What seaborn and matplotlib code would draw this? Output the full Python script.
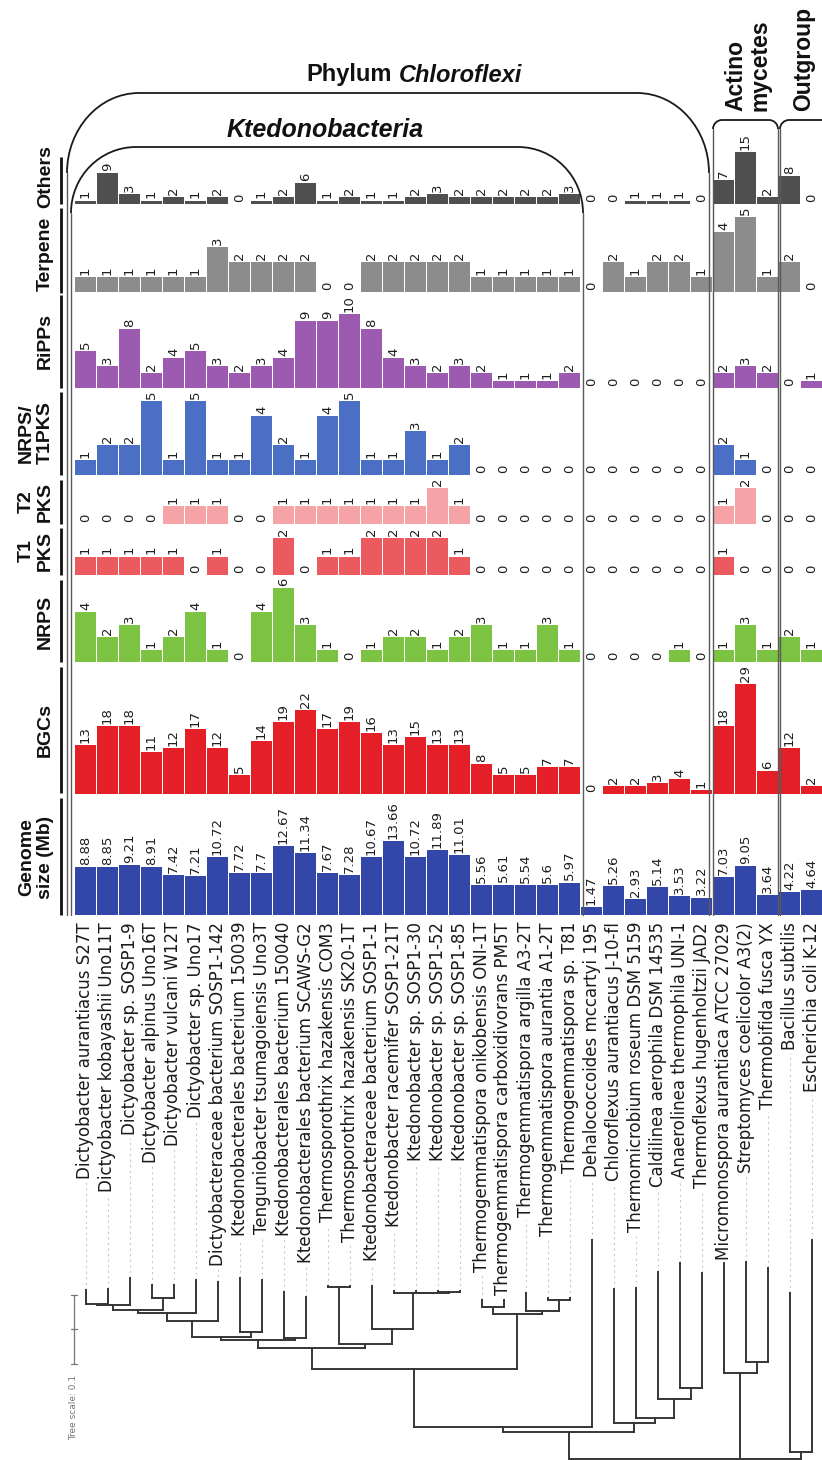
import matplotlib
matplotlib.use("Agg")
import matplotlib.pyplot as plt
import seaborn as sns
from matplotlib.path import Path
from matplotlib.patches import PathPatch

sns.set_theme(style="white")
plt.rcParams['font.family'] = ['DejaVu Sans']

# ---------------------------------------------------------------- data
taxa = [
    "Dictyobacter aurantiacus S27T", "Dictyobacter kobayashii Uno11T",
    "Dictyobacter sp. SOSP1-9", "Dictyobacter alpinus Uno16T",
    "Dictyobacter vulcani W12T", "Dictyobacter sp. Uno17",
    "Dictyobacteraceae bacterium SOSP1-142", "Ktedonobacterales bacterium 150039",
    "Tenguniobacter tsumagoiensis Uno3T", "Ktedonobacterales bacterium 150040",
    "Ktedonobacterales bacterium SCAWS-G2", "Thermosporothrix hazakensis COM3",
    "Thermosporothrix hazakensis SK20-1T", "Ktedonobacteraceae bacterium SOSP1-1",
    "Ktedonobacter racemifer SOSP1-21T", "Ktedonobacter sp. SOSP1-30",
    "Ktedonobacter sp. SOSP1-52", "Ktedonobacter sp. SOSP1-85",
    "Thermogemmatispora onikobensis ONI-1T", "Thermogemmatispora carboxidivorans PM5T",
    "Thermogemmatispora argilla A3-2T", "Thermogemmatispora aurantia A1-2T",
    "Thermogemmatispora sp. T81", "Dehalococcoides mccartyi 195",
    "Chloroflexus aurantiacus J-10-fl", "Thermomicrobium roseum DSM 5159",
    "Caldilinea aerophila DSM 14535", "Anaerolinea thermophila UNI-1",
    "Thermoflexus hugenholtzii JAD2", "Micromonospora aurantiaca ATCC 27029",
    "Streptomyces coelicolor A3(2)", "Thermobifida fusca YX",
    "Bacillus subtilis", "Escherichia coli K-12",
]

genome_size = [8.88, 8.85, 9.21, 8.91, 7.42, 7.21, 10.72, 7.72, 7.7, 12.67, 11.34,
               7.67, 7.28, 10.67, 13.66, 10.72, 11.89, 11.01, 5.56, 5.61, 5.54, 5.6,
               5.97, 1.47, 5.26, 2.93, 5.14, 3.53, 3.22, 7.03, 9.05, 3.64, 4.22, 4.64]
bgcs = [13, 18, 18, 11, 12, 17, 12, 5, 14, 19, 22, 17, 19, 16, 13, 15, 13, 13, 8, 5,
        5, 7, 7, 0, 2, 2, 3, 4, 1, 18, 29, 6, 12, 2]
nrps = [4, 2, 3, 1, 2, 4, 1, 0, 4, 6, 3, 1, 0, 1, 2, 2, 1, 2, 3, 1, 1, 3, 1, 0, 0, 0,
        0, 1, 0, 1, 3, 1, 2, 1]
t1pks = [1, 1, 1, 1, 1, 0, 1, 0, 0, 2, 0, 1, 1, 2, 2, 2, 2, 1, 0, 0, 0, 0, 0, 0, 0, 0,
         0, 0, 0, 1, 0, 0, 0, 0]
t2pks = [0, 0, 0, 0, 1, 1, 1, 0, 0, 1, 1, 1, 1, 1, 1, 1, 2, 1, 0, 0, 0, 0, 0, 0, 0, 0,
         0, 0, 0, 1, 2, 0, 0, 0]
nrps_t1pks = [1, 2, 2, 5, 1, 5, 1, 1, 4, 2, 1, 4, 5, 1, 1, 3, 1, 2, 0, 0, 0, 0, 0, 0,
              0, 0, 0, 0, 0, 2, 1, 0, 0, 0]
ripps = [5, 3, 8, 2, 4, 5, 3, 2, 3, 4, 9, 9, 10, 8, 4, 3, 2, 3, 2, 1, 1, 1, 2, 0, 0, 0,
         0, 0, 0, 2, 3, 2, 0, 1]
terpene = [1, 1, 1, 1, 1, 1, 3, 2, 2, 2, 2, 0, 0, 2, 2, 2, 2, 2, 1, 1, 1, 1, 1, 0, 2, 1,
           2, 2, 1, 4, 5, 1, 2, 0]
others = [1, 9, 3, 1, 2, 1, 2, 0, 1, 2, 6, 1, 2, 1, 1, 2, 3, 2, 2, 2, 2, 2, 3, 0, 0, 1,
          1, 1, 0, 7, 15, 2, 8, 0]

# tree: tip depths from the root (substitutions/site) and internal clades
tip_depth = [0.245, 0.246, 0.262, 0.252, 0.252, 0.259, 0.257, 0.262, 0.259, 0.242,
             0.235, 0.251, 0.251, 0.251, 0.243, 0.243, 0.243, 0.243, 0.230, 0.230,
             0.241, 0.233, 0.233, 0.317, 0.246, 0.248, 0.271, 0.284, 0.270, 0.284,
             0.286, 0.277, 0.241, 0.317]
clades = [
    ("n12", [0, 1], 0.225), ("n123", ["n12", 2], 0.223), ("n45", [3, 4], 0.233),
    ("nA", ["n123", "n45"], 0.216), ("nA6", ["nA", 5], 0.212),
    ("nA7", ["nA6", 6], 0.200), ("n89", [7, 8], 0.184),
    ("nB", ["nA7", "n89"], 0.177), ("n1011", [9, 10], 0.175),
    ("nC", ["nB", "n1011"], 0.172), ("n1213", [11, 12], 0.249),
    ("n1718", [16, 17], 0.242), ("n16_18", [15, "n1718"], 0.241),
    ("n15_18", [14, "n16_18"], 0.240), ("n14_18", [13, "n15_18"], 0.188),
    ("nD", ["n1213", "n14_18"], 0.167), ("nE", ["nC", "nD"], 0.161),
    ("n1920", [18, 19], 0.220), ("n2223", [21, 22], 0.230),
    ("n21_23", [20, "n2223"], 0.214), ("nF", ["n1920", "n21_23"], 0.210),
    ("nG", ["nE", "nF"], 0.130), ("nH", ["nG", 23], 0.046),
    ("n2829", [27, 28], 0.103), ("n27_29", [26, "n2829"], 0.087),
    ("n26_29", [25, "n27_29"], 0.059), ("n25_29", [24, "n26_29"], 0.052),
    ("nI", ["nH", "n25_29"], 0.039), ("n3132", [30, 31], 0.141),
    ("nJ", [29, "n3132"], 0.125), ("n3334", [32, 33], 0.010),
    ("root", ["nI", "nJ", "n3334"], 0.0),
]

# ---------------------------------------------------------------- layout
W, H = 822, 1460
fig = plt.figure(figsize=(W / 100, H / 100), dpi=100)
fig.patch.set_facecolor("white")
X0, X1 = 74.5, 822.5          # pixel span of the 34 columns
NCOL = len(taxa)

TITLE_FONT = ['Liberation Sans', 'DejaVu Sans']


def add_px_axes(top, bottom):
    return fig.add_axes([X0 / W, 1 - bottom / H, (X1 - X0) / W, (bottom - top) / H])


# label, values, colour, panel top, baseline, px per unit, label y, line span
panels = [
    ("Others", others, "#4f4f4f", 140, 204, 3.44, 177, (157, 204)),
    ("Terpene", terpene, "#8c8c8c", 208, 292, 15.0, 254, (208, 293)),
    ("RiPPs", ripps, "#9d5ab1", 295, 388, 7.4, 341, (295, 388)),
    ("NRPS/\nT1PKS", nrps_t1pks, "#4a6fc5", 392, 475, 14.8, 433, (392, 475)),
    ("T2\nPKS", t2pks, "#f5a3a7", 480, 524, 18.0, 502, (480, 524)),
    ("T1\nPKS", t1pks, "#ea5a5f", 528, 575, 18.5, 551, (528, 575)),
    ("NRPS", nrps, "#7cc243", 580, 662, 12.4, 622, (580, 662)),
    ("BGCs", bgcs, "#e41f27", 667, 794, 3.8, 730, (667, 793)),
    ("Genome\nsize (Mb)", genome_size, "#3247a8", 798, 915, 5.43, 857, (798, 915)),
]

for label, vals, color, top, base, ppu, ly, span in panels:
    ax = add_px_axes(top - 30, base)
    sns.barplot(x=list(range(NCOL)), y=vals, color=color, saturation=1,
                width=0.93, errorbar=None, ax=ax, linewidth=0)
    ax.set_xlim(-0.5, NCOL - 0.5)
    ax.set_ylim(0, (base - top + 30) / ppu)
    ax.axis("off")
    ax.bar_label(ax.containers[0], labels=[f"{v:g}" for v in vals], rotation=90,
                 padding=1.5, fontsize=9.5, color="#1e1e1e")

# ---------------------------------------------------------------- tree
TREE_TOP = 920
PX_PER_UNIT = 690
ax_t = add_px_axes(TREE_TOP, H)
ax_t.set_xlim(-0.5, NCOL - 0.5)
ax_t.set_ylim(-1 / PX_PER_UNIT, (H - 1 - TREE_TOP) / PX_PER_UNIT)
ax_t.axis("off")

node_x, node_d = {}, {}
for i, d in enumerate(tip_depth):
    node_x[i], node_d[i] = float(i), d
tree_kw = dict(color="#363636", lw=1.4, solid_capstyle="projecting", clip_on=False)
for name, kids, d in clades:
    xs = [node_x[k] for k in kids]
    for k in kids:
        ax_t.plot([node_x[k], node_x[k]], [d, node_d[k]], **tree_kw)
    ax_t.plot([min(xs), max(xs)], [d, d], **tree_kw)
    node_x[name] = (xs[0] + xs[-1]) / 2
    node_d[name] = d

# scale bar (0.1)
sb_x = -0.52
sb_lo, sb_hi = 0.1377, 0.2377
ax_t.plot([sb_x, sb_x], [sb_lo, sb_hi], color="#777777", lw=0.9, clip_on=False)
for yy in (sb_lo, (sb_lo + sb_hi) / 2, sb_hi):
    ax_t.plot([sb_x - 0.12, sb_x + 0.12], [yy, yy], color="#777777", lw=0.9, clip_on=False)
ax_t.text(sb_x, 0.1217, "Tree scale: 0.1", rotation=90, rotation_mode="anchor",
          ha="right", va="center", fontsize=6.5, color="#777777")

# taxon labels
label_d = (H - 1 - 922) / PX_PER_UNIT
name_texts = []
for i, name in enumerate(taxa):
    t = ax_t.text(i, label_d, name, rotation=90, rotation_mode="anchor",
                  ha="right", va="center", fontsize=12, color="#1a1a1a")
    name_texts.append(t)

fig.canvas.draw()
renderer = fig.canvas.get_renderer()
inv = ax_t.transData.inverted()
for i, t in enumerate(name_texts):
    bb = t.get_window_extent(renderer)
    _, d_bottom = inv.transform((0, bb.y0 - 3))
    if d_bottom > tip_depth[i]:
        ax_t.plot([i, i], [tip_depth[i], d_bottom], color="#c9c9c9", lw=0.8,
                  ls=(0, (2, 3)), zorder=0)

# ---------------------------------------------------------------- overlay (pixel coords)
ov = fig.add_axes([0, 0, 1, 1])
ov.set_xlim(0, W)
ov.set_ylim(H, 0)
ov.axis("off")
ov.patch.set_alpha(0)


def bracket(x0, x1, ytop, ybot, rx, ry, lw=1.3):
    k = 0.5523
    verts = [(x0, ytop + ry), (x0, ytop + ry - k * ry), (x0 + rx - k * rx, ytop), (x0 + rx, ytop),
             (x1 - rx, ytop), (x1 - rx + k * rx, ytop), (x1, ytop + ry - k * ry), (x1, ytop + ry)]
    codes = [Path.MOVETO, Path.CURVE4, Path.CURVE4, Path.CURVE4,
             Path.LINETO, Path.CURVE4, Path.CURVE4, Path.CURVE4]
    ov.add_patch(PathPatch(Path(verts, codes), fill=False, ec="#1a1a1a", lw=lw))
    for xx in (x0, x1):
        ov.plot([xx, xx], [ytop + ry, ybot], color="#5a5a5a", lw=1.0)


bracket(67, 709, 93, 915, 72, 80)
bracket(71, 583, 147, 915, 65, 66)
bracket(713, 778, 120, 915, 9, 9)
bracket(780, 850, 120, 915, 9, 9)

# panel name labels and their separator lines
for label, vals, color, top, base, ppu, ly, span in panels:
    ov.text(54, ly, label, rotation=90, ha="right", va="center", multialignment="center",
            fontsize=14, fontweight="bold", family=TITLE_FONT, color="#111111",
            linespacing=1.15)
    ov.plot([61, 61], span, color="#111111", lw=2.0, solid_capstyle="butt")

# group titles
ov.text(392, 75, "Phylum", ha="right", va="center", fontsize=17, fontweight="bold",
        family=TITLE_FONT, color="#111111")
ov.text(399, 75, "Chloroflexi", ha="left", va="center", fontsize=17, fontweight="bold",
        fontstyle="italic", family=TITLE_FONT, color="#111111")
ov.text(325, 130, "Ktedonobacteria", ha="center", va="center", fontsize=18,
        fontweight="bold", fontstyle="italic", family=TITLE_FONT, color="#111111")
ov.text(748, 111, "Actino\nmycetes", rotation=90, rotation_mode="anchor", ha="left",
        va="center", multialignment="left", fontsize=16.5, fontweight="bold",
        family=TITLE_FONT, color="#111111", linespacing=1.1)
ov.text(804, 111, "Outgroup", rotation=90, rotation_mode="anchor", ha="left",
        va="center", fontsize=16.5, fontweight="bold", family=TITLE_FONT, color="#111111")

fig.savefig("out.png", dpi=100, facecolor="white")
